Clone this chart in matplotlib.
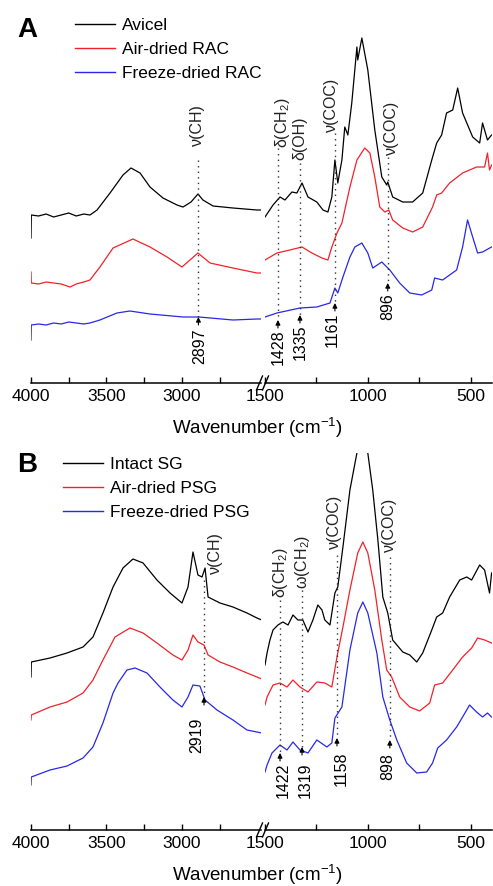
import matplotlib
matplotlib.use('Agg')
import matplotlib.pyplot as plt
from matplotlib.lines import Line2D

plt.rcParams['font.family'] = ['Liberation Sans', 'DejaVu Sans']
plt.rcParams['mathtext.fontset'] = 'custom'
plt.rcParams['mathtext.rm'] = 'Liberation Sans'
plt.rcParams['mathtext.it'] = 'Liberation Sans:italic'
plt.rcParams['mathtext.bf'] = 'Liberation Sans:bold'

# ---------------- Panel A data (wavenumber, relative absorbance) ----------------
A_labels = ['Avicel', 'Air-dried RAC', 'Freeze-dried RAC']

A_avicel_hi_wn = [4000, 3998, 3950, 3900, 3850, 3800, 3750, 3700, 3650, 3609, 3562, 3476, 3390, 3337,
                  3277, 3211, 3125, 3032, 2992, 2939, 2893, 2860, 2793, 2661, 2502, 2470]
A_avicel_hi = [145, 168, 167, 169, 166, 168, 170, 167, 169, 168, 173, 190, 208, 215,
               210, 196, 185, 178, 176, 181, 189, 183, 177, 175, 173, 173]
A_air_hi_wn = [4000, 3998, 3950, 3900, 3850, 3800, 3741, 3700, 3650, 3609, 3543, 3456, 3324, 3211,
               3098, 2999, 2893, 2813, 2661, 2502, 2470]
A_air_hi = [111, 100, 99, 101, 100, 99, 96, 99, 101, 103, 116, 135, 144, 136,
            126, 116, 130, 120, 115, 110, 110]
A_freeze_hi_wn = [4000, 3998, 3950, 3900, 3850, 3800, 3750, 3700, 3650, 3609, 3543, 3430, 3344, 3211,
                  2992, 2886, 2661, 2502, 2470]
A_freeze_hi = [43, 58, 59, 58, 60, 59, 61, 60, 59, 60, 63, 70, 72, 69,
               66, 66, 63, 64, 64]

A_avicel_lo_wn = [1500, 1461, 1427, 1403, 1369, 1345, 1320, 1291, 1248, 1218, 1194, 1175, 1160, 1146,
                  1126, 1112, 1097, 1078, 1053, 1049, 1029, 1000, 966, 932, 908, 903, 879, 830, 782,
                  733, 689, 665, 641, 617, 587, 563, 539, 490, 456, 442, 418, 398]
A_avicel_lo = [166, 178, 186, 183, 191, 190, 200, 186, 181, 173, 171, 186, 223, 200,
               223, 256, 248, 280, 336, 323, 345, 313, 253, 206, 198, 201, 186, 181, 181,
               190, 223, 240, 248, 270, 273, 295, 270, 246, 240, 260, 243, 248]
A_air_lo_wn = [1500, 1442, 1379, 1320, 1272, 1223, 1194, 1175, 1150, 1126, 1087, 1053, 1015, 990,
               966, 942, 917, 898, 879, 830, 782, 733, 685, 665, 641, 602, 539, 471, 432, 418,
               408, 398]
A_air_lo = [123, 130, 133, 136, 130, 125, 123, 136, 150, 160, 196, 223, 235, 230,
            206, 176, 171, 173, 163, 155, 151, 156, 176, 188, 190, 200, 210, 216, 216, 230,
            213, 218]
A_freeze_lo_wn = [1500, 1442, 1330, 1248, 1184, 1160, 1146, 1121, 1087, 1063, 1029, 1000, 976, 932,
                  893, 845, 796, 738, 689, 675, 636, 568, 539, 515, 490, 466, 442, 398]
A_freeze_lo = [66, 70, 75, 76, 80, 95, 90, 106, 126, 136, 140, 130, 115, 121,
               113, 100, 90, 88, 93, 105, 103, 113, 136, 163, 146, 130, 131, 136]

# ---------------- Panel B data ----------------
B_labels = ['Intact SG', 'Air-dried PSG', 'Freeze-dried PSG']

B_intact_hi_wn = [4000, 3998, 3874, 3761, 3655, 3589, 3523, 3456, 3390, 3324, 3257, 3165, 3078, 2999,
                  2959, 2926, 2893, 2866, 2846, 2826, 2747, 2661, 2568, 2502, 2470]
B_intact_hi = [153, 168, 172, 177, 183, 193, 217, 243, 262, 271, 267, 250, 237, 227,
               243, 278, 255, 253, 262, 233, 227, 223, 217, 212, 210]
B_air_hi_wn = [4000, 3998, 3874, 3761, 3655, 3589, 3523, 3443, 3344, 3257, 3165, 3059, 2999, 2959,
               2926, 2893, 2853, 2826, 2747, 2661, 2568, 2502, 2470]
B_air_hi = [110, 115, 123, 128, 137, 150, 170, 193, 202, 197, 187, 175, 170, 180,
            195, 188, 185, 175, 168, 163, 157, 153, 151]
B_freeze_hi_wn = [4000, 3998, 3874, 3761, 3655, 3589, 3523, 3456, 3423, 3364, 3310, 3231, 3145, 3059,
                  2999, 2959, 2926, 2880, 2846, 2767, 2661, 2568, 2502, 2470]
B_freeze_hi = [45, 53, 60, 64, 72, 83, 107, 137, 147, 160, 162, 157, 143, 130,
               123, 133, 145, 144, 130, 120, 110, 100, 98, 97]

B_intact_lo_wn = [1500, 1490, 1476, 1461, 1437, 1413, 1388, 1364, 1340, 1316, 1291, 1267, 1243, 1223,
                  1209, 1184, 1160, 1146, 1121, 1087, 1053, 1029, 1000, 976, 951, 927, 903, 879,
                  830, 796, 762, 733, 689, 665, 636, 602, 553, 519, 495, 456, 432, 408, 398]
B_intact_lo = [165, 177, 190, 200, 205, 208, 205, 215, 210, 210, 198, 210, 225, 220,
               210, 205, 237, 243, 283, 340, 377, 410, 377, 340, 290, 233, 217, 190,
               178, 175, 168, 177, 200, 213, 217, 233, 250, 253, 250, 265, 260, 237, 257]
B_air_lo_wn = [1500, 1490, 1461, 1427, 1393, 1364, 1330, 1291, 1248, 1209, 1175, 1150, 1121, 1087,
               1049, 1024, 1000, 966, 932, 908, 884, 845, 796, 748, 699, 675, 636, 587, 539,
               495, 466, 432, 398]
B_air_lo = [125, 133, 145, 147, 143, 150, 143, 138, 148, 147, 143, 173, 203, 240,
            277, 288, 277, 240, 190, 160, 153, 133, 123, 119, 127, 145, 147, 160, 173,
            182, 192, 190, 187]
B_freeze_lo_wn = [1500, 1490, 1466, 1427, 1393, 1364, 1330, 1291, 1248, 1199, 1175, 1160, 1126, 1087,
                  1049, 1024, 1000, 956, 927, 893, 859, 811, 762, 714, 685, 660, 617, 568, 539,
                  505, 471, 442, 418, 398]
B_freeze_lo = [58, 65, 77, 85, 80, 88, 80, 77, 90, 83, 87, 112, 123, 180,
               217, 228, 217, 177, 133, 110, 90, 67, 57, 58, 67, 82, 90, 103, 113,
               125, 118, 113, 117, 113]

# x ticks of the broken axis
hi_major = [4000, 3500, 3000]
hi_minor = [3750, 3250, 2750]
lo_major = [1500, 1000, 500]
lo_minor = [1250, 750]

# Band annotations: (label, line wn, dotted top, arrow tip, label wn, label height, number, number wn, number top)
A_bands = [
    ('ν(CH)', 2890, 223, 66, 2893, 258, '2897', 2880, 55),
    ('δ(CH$_2$)', 1437, 235, 63, 1417, 260, '1428', 1437, 54),
    ('δ(OH)', 1330, 220, 68, 1330, 245, '1335', 1330, 58),
    ('ν(COC)', 1160, 250, 80, 1175, 278, '1161', 1175, 70),
    ('ν(COC)', 903, 226, 100, 883, 255, '896', 903, 90),
]
B_bands = [
    ('ν(CH)', 2853, 250, 133, 2780, 277, '2919', 2900, 112),
    ('δ(CH$_2$)', 1427, 230, 77, 1427, 257, '1422', 1413, 67),
    ('ω(CH$_2$)', 1320, 240, 83, 1316, 268, '1319', 1306, 68),
    ('ν(COC)', 1150, 275, 92, 1160, 308, '1158', 1131, 78),
    ('ν(COC)', 893, 273, 90, 893, 305, '898', 903, 77),
]

colors = ['#000000', '#f0222a', '#2828e6']
W, H = 493, 886
fig = plt.figure(figsize=(W / 100, H / 100), dpi=100)


def fx(px):
    return px / W


def fy(py):
    return 1 - py / H


def make_axes(y_axis, y_top):
    hgt = (y_axis - y_top) / H
    axl = fig.add_axes([fx(31), fy(y_axis), fx(261 - 31), hgt])
    axr = fig.add_axes([fx(265), fy(y_axis), fx(492 - 265), hgt])
    axl.set_xlim(4000, 2475)
    axr.set_xlim(1500, 396)
    axl.set_xticks(hi_major)
    axl.set_xticks(hi_minor, minor=True)
    axr.set_xticks(lo_major)
    axr.set_xticks(lo_minor, minor=True)
    for ax in (axl, axr):
        ax.set_ylim(0, y_axis - y_top)
        for s in ('left', 'right', 'top'):
            ax.spines[s].set_visible(False)
        ax.spines['bottom'].set_linewidth(1.1)
        ax.set_yticks([])
        ax.tick_params(axis='x', which='both', direction='in', length=4.5, width=1.0,
                       labelsize=12.5, pad=4)
    # break marks
    for xb in (259.5, 265.5):
        fig.add_artist(Line2D([fx(xb - 3), fx(xb + 3)], [fy(y_axis + 7), fy(y_axis - 7)],
                              color='k', lw=1.0, transform=fig.transFigure))
    fig.text(fx(257), fy(y_axis + 45), 'Wavenumber (cm$^{-1}$)', fontsize=13.5,
             ha='center', va='center')
    return axl, axr


def draw_panel(axl, axr, hi, lo, bands, labels, leg_xy, letter, letter_xy):
    for (wn, y), c in zip(hi, colors):
        axl.plot(wn, y, color=c, lw=0.9)
    for (wn, y), c in zip(lo, colors):
        axr.plot(wn, y, color=c, lw=0.9)
    for lab, xl, htop, harr, lx, ly, num, nx, ntop in bands:
        ax = axl if xl > 2000 else axr
        ax.plot([xl, xl], [htop, harr], color='#333333', lw=1.0, linestyle=(0, (1, 3)))
        ax.annotate('', xy=(xl, harr), xytext=(xl, harr - 8),
                    arrowprops=dict(arrowstyle='-|>', color='k', lw=0.8, mutation_scale=7,
                                    shrinkA=0, shrinkB=0))
        ax.text(lx, ly, lab, rotation=90, fontsize=11.5, ha='center', va='center', color='#222222')
        ax.text(nx, ntop, num, rotation=90, fontsize=11.5, ha='center', va='top')
    handles = [Line2D([], [], color=c, lw=1.0) for c in colors]
    axl.legend(handles, labels, loc='upper left', bbox_to_anchor=(fx(leg_xy[0]), fy(leg_xy[1])),
               bbox_transform=fig.transFigure, frameon=False, fontsize=12.5, handlelength=2.3,
               handletextpad=0.4, labelspacing=0.5, borderpad=0, borderaxespad=0)
    fig.text(fx(letter_xy[0]), fy(letter_xy[1]), letter, fontsize=20, fontweight='bold',
             ha='center', va='center')


axAl, axAr = make_axes(383, 0)
draw_panel(axAl, axAr,
           [(A_avicel_hi_wn, A_avicel_hi), (A_air_hi_wn, A_air_hi), (A_freeze_hi_wn, A_freeze_hi)],
           [(A_avicel_lo_wn, A_avicel_lo), (A_air_lo_wn, A_air_lo), (A_freeze_lo_wn, A_freeze_lo)],
           A_bands, A_labels, (75, 18), 'A', (27, 30))

axBl, axBr = make_axes(830, 453)
draw_panel(axBl, axBr,
           [(B_intact_hi_wn, B_intact_hi), (B_air_hi_wn, B_air_hi), (B_freeze_hi_wn, B_freeze_hi)],
           [(B_intact_lo_wn, B_intact_lo), (B_air_lo_wn, B_air_lo), (B_freeze_lo_wn, B_freeze_lo)],
           B_bands, B_labels, (63, 457), 'B', (27, 465))

fig.savefig('out.png', dpi=100)
